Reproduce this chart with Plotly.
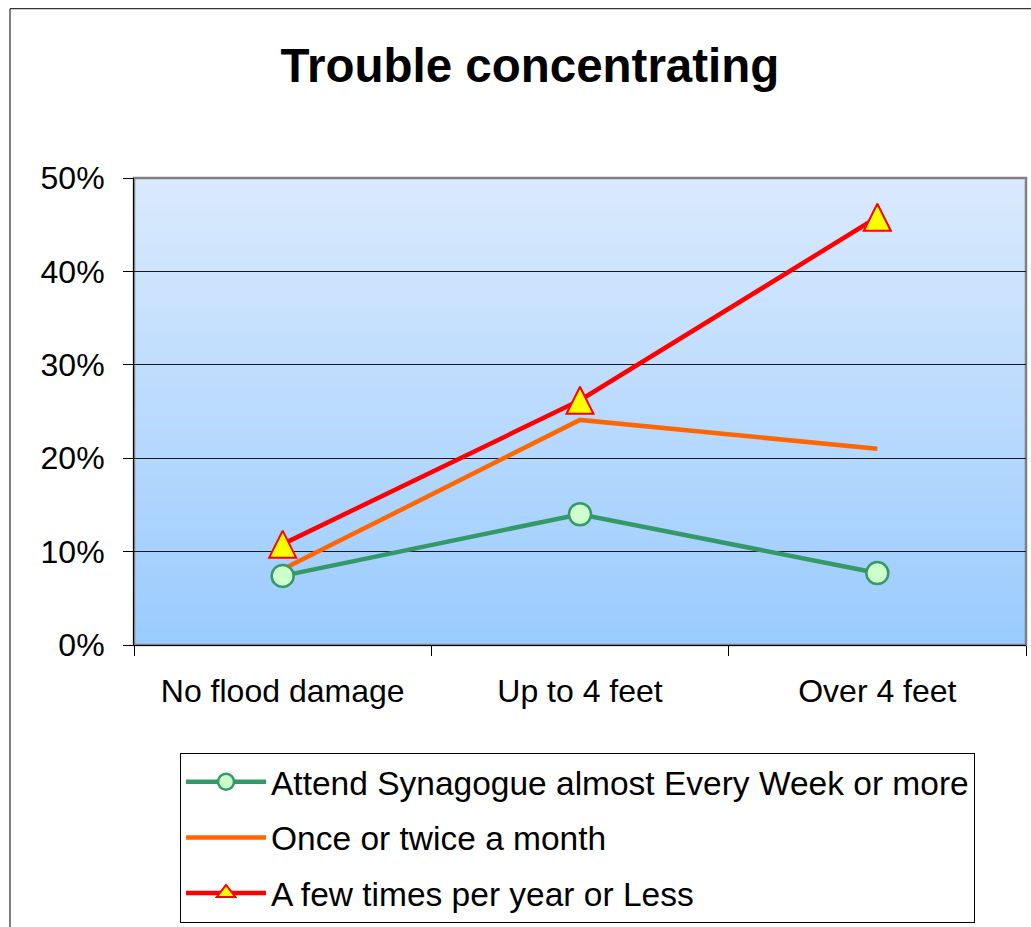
import plotly.graph_objects as go

# Share of respondents reporting trouble concentrating, by flood damage level
categories = ["No flood damage", "Up to 4 feet", "Over 4 feet"]
series_names = [
    "Attend Synagogue almost Every Week or more",
    "Once or twice a month",
    "A few times per year or Less",
]
weekly = [0.074, 0.140, 0.077]
monthly = [0.081, 0.241, 0.210]
yearly = [0.108, 0.262, 0.458]
y_tick_values = [0, 0.1, 0.2, 0.3, 0.4, 0.5]
y_tick_labels = ["0%", "10%", "20%", "30%", "40%", "50%"]

FONT = "Liberation Sans, Arial, sans-serif"
RED_MARKER = dict(color="#FFFF00", line=dict(color="#FF0000", width=2))

fig = go.Figure()

# Orange first so the green circles sit on top of its start point
fig.add_trace(go.Scatter(
    x=categories, y=monthly, name=series_names[1], mode="lines",
    line=dict(color="#FF6600", width=4.5),
    legendgroup="b", legendrank=2,
))
fig.add_trace(go.Scatter(
    x=categories, y=weekly, name=series_names[0], mode="lines+markers",
    line=dict(color="#339966", width=4.5),
    marker=dict(symbol="circle", size=22, color="#CCFFCC",
                line=dict(color="#339966", width=2.5)),
    legendgroup="a", legendrank=1,
))
# Centered upright triangle: a down arrow shifted by half its height, then flipped
fig.add_trace(go.Scatter(
    x=categories, y=yearly, name=series_names[2], mode="lines+markers",
    line=dict(color="#FF0000", width=4.5),
    marker=dict(symbol="arrow-down", size=27, angle=180, standoff=13.5, **RED_MARKER),
    legendgroup="c", showlegend=False,
))
# Legend entry for the red series
fig.add_trace(go.Scatter(
    x=[None], y=[None], name=series_names[2], mode="lines+markers",
    line=dict(color="#FF0000", width=4.5),
    marker=dict(symbol="triangle-up", size=16, **RED_MARKER),
    legendgroup="c", legendrank=3,
))

# Vertical gradient fill of the plot area
shapes = []
n_bands = 80
top = (0xDA, 0xEA, 0xFD)
bottom = (0x9A, 0xCB, 0xFE)
for i in range(n_bands):
    t = (i + 0.5) / n_bands
    r = round(bottom[0] + (top[0] - bottom[0]) * t)
    g = round(bottom[1] + (top[1] - bottom[1]) * t)
    b = round(bottom[2] + (top[2] - bottom[2]) * t)
    shapes.append(dict(
        type="rect", xref="x domain", yref="y domain",
        x0=0, x1=1, y0=i / n_bands, y1=(i + 1) / n_bands + 0.002,
        fillcolor=f"rgb({r},{g},{b})", line=dict(width=0), layer="below",
    ))
# Gray frame of the plot area
shapes.append(dict(
    type="rect", xref="x domain", yref="y domain", x0=0, x1=1, y0=0, y1=1,
    line=dict(color="#808080", width=2.5), fillcolor="rgba(0,0,0,0)", layer="below",
))
# Outer chart border
shapes.append(dict(
    type="rect", xref="paper", yref="paper",
    x0=-0.139, x1=1.02, y0=-0.63, y1=1.3625,
    line=dict(color="#000000", width=1), fillcolor="rgba(0,0,0,0)", layer="below",
))

fig.update_layout(
    width=1031, height=927,
    margin=dict(l=134, r=5, t=178, b=280),
    paper_bgcolor="white",
    plot_bgcolor="rgba(0,0,0,0)",
    font=dict(family=FONT, color="black", size=32),
    title=dict(
        text="<b>Trouble concentrating</b>",
        font=dict(family=FONT, size=47.5, color="black"),
        x=0.514, xanchor="center", xref="container",
        y=0.929, yanchor="middle", yref="container",
    ),
    shapes=shapes,
    showlegend=True,
    legend=dict(
        x=0.0516, y=-0.2303, xanchor="left", yanchor="top",
        xref="paper", yref="paper",
        bgcolor="white", bordercolor="black", borderwidth=1,
        font=dict(family=FONT, size=33.5, color="black"),
        traceorder="grouped", tracegroupgap=9, itemwidth=80,
    ),
    xaxis=dict(
        type="category", range=[-0.5, 2.5],
        showline=True, linecolor="black", linewidth=1,
        ticks="outside", tickson="boundaries", ticklen=10,
        tickcolor="black", tickwidth=1,
        showgrid=False, zeroline=False,
        tickfont=dict(family=FONT, size=32, color="black"),
        ticklabelstandoff=18,
    ),
    yaxis=dict(
        range=[0, 0.5],
        tickvals=y_tick_values, ticktext=y_tick_labels,
        showline=True, linecolor="black", linewidth=1,
        ticks="outside", ticklen=10, tickcolor="black", tickwidth=1,
        showgrid=True, gridcolor="#1a1a1a", gridwidth=1,
        zeroline=False,
        tickfont=dict(family=FONT, size=32, color="black"),
        ticklabelstandoff=12,
    ),
)

fig.write_html("out.html")
